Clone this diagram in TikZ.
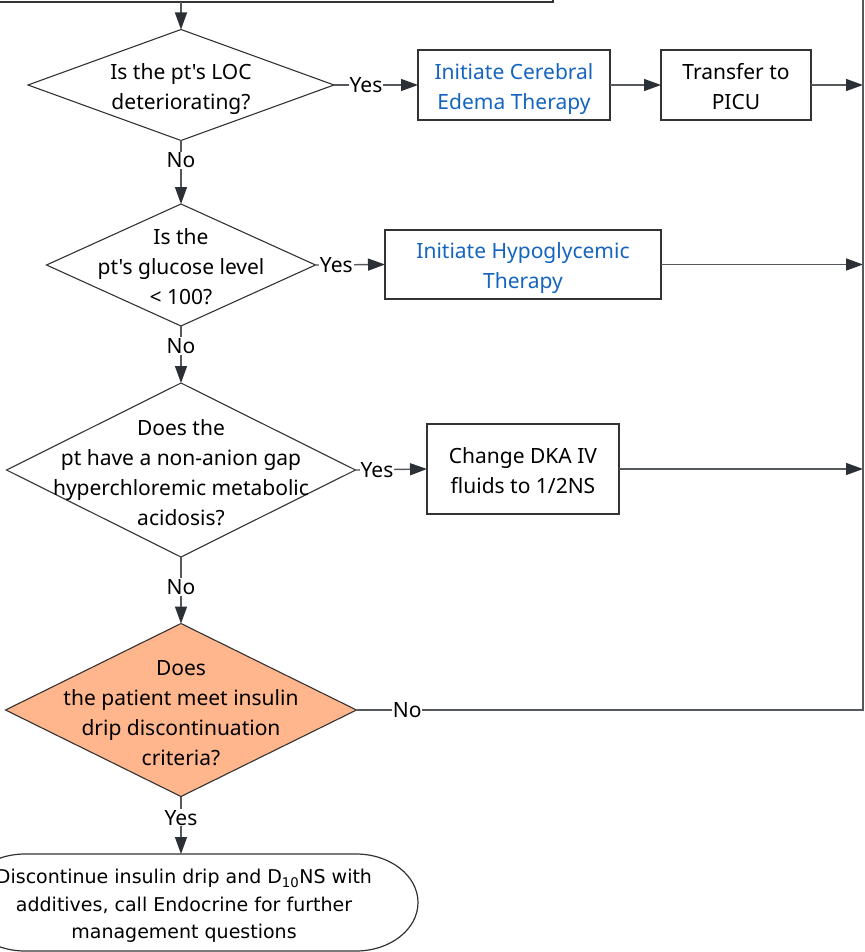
\documentclass[tikz,border=0pt]{standalone}
\usepackage{fontspec}
\setmainfont{Noto Sans}[Ligatures=TeXOff]
\newfontfamily\ellfont{DejaVu Sans}[Ligatures=TeXOff]
\usetikzlibrary{shapes.geometric,arrows.meta}
\definecolor{edgec}{RGB}{51,51,51}
\definecolor{connc}{RGB}{85,88,92}
\definecolor{tipc}{RGB}{43,47,54}
\definecolor{linkblue}{RGB}{21,101,192}
\definecolor{peach}{RGB}{255,182,140}
\newcommand\lsr{\rule[-0.22em]{0pt}{1.362em}}
\begin{document}
\begin{tikzpicture}[x=1pt,y=-1pt,
  box/.style={draw=edgec, line width=1.2pt, rectangle, inner sep=0pt, outer sep=0pt, align=center, font=\fontsize{21}{28.6}\selectfont},
  dia/.style={draw=edgec, line width=1.1pt, diamond, inner sep=0pt, outer sep=0pt},
  txt/.style={align=center, font=\fontsize{21}{28.6}\selectfont, inner sep=0pt},
  conn/.style={draw=connc, line width=1.4pt},
  arr/.style={conn, -{Triangle[length=17pt,width=12pt,color=tipc]}},
  lab/.style={fill=white, inner sep=1pt, font=\fontsize{21}{24}\selectfont},
]
\clip (0,0) rectangle (864,952);
\fill[white] (0,0) rectangle (864,952);
% nodes
\node[box, minimum width=600, minimum height=70] (top) at (253,-33) {};
\node[dia, minimum width=306, minimum height=111] (d1) at (181,85) {};
\node[txt] (t1) at (d1) {\lsr Is the pt's LOC\\\lsr deteriorating?};
\node[box, text=linkblue, minimum width=192, minimum height=70] (b1) at (514,85) {\lsr Initiate Cerebral\\\lsr Edema Therapy};
\node[box, minimum width=150, minimum height=70] (b2) at (736,85) {\lsr Transfer to\\\lsr PICU};
\node[dia, minimum width=269, minimum height=122] (d2) at (181,265) {};
\node[txt] (t2) at (d2) {\lsr Is the\\\lsr pt's glucose level\\\lsr < 100?};
\node[box, text=linkblue, minimum width=276, minimum height=69] (b3) at (523,264.5) {\lsr Initiate Hypoglycemic\\\lsr Therapy};
\node[dia, minimum width=349, minimum height=174] (d3) at (181,470) {};
\node[txt] (t3) at (181,471) {\lsr Does the\\\lsr pt have a non-anion gap\\\lsr hyperchloremic metabolic\\\lsr acidosis?};
\node[box, minimum width=192, minimum height=90] (b4) at (523,469) {\lsr Change DKA IV\\\lsr fluids to 1/2NS};
\node[dia, fill=peach, minimum width=351, minimum height=173] (d4) at (181,710) {};
\node[txt] (t4) at (181,711) {\lsr Does\\\lsr the patient meet insulin\\\lsr drip discontinuation\\\lsr criteria?};
% terminator (stadium with elliptical ends)
\node[rectangle, inner sep=0pt, outer sep=0pt, minimum width=455, minimum height=97] (e) at (190.5,902.5) {};
\draw[draw=edgec, line width=1.2pt]
  ([xshift=62pt]e.north west) -- ([xshift=-62pt]e.north east)
  arc[start angle=90, end angle=-90, x radius=62pt, y radius=48.5pt]
  -- ([xshift=62pt]e.south west)
  arc[start angle=270, end angle=90, x radius=62pt, y radius=48.5pt] -- cycle;
\node[align=center, inner sep=0pt, font=\ellfont\fontsize{19}{27.5}\selectfont] (te) at (184,906) {Discontinue insulin drip and D\textsubscript{10}NS with\\additives, call Endocrine for further\\management questions};
\coordinate (rail) at (863,-20);
% connectors
\draw[arr] (d1.north |- top.south) -- (d1.north);
\draw[arr] (d1.east) -- node[lab,pos=0.38]{Yes} (b1.west);
\draw[arr] (b1.east) -- (b2.west);
\draw[arr] (b2.east) -- (b2.east -| rail);
\draw[arr] (d1.south) -- node[lab,pos=0.31]{No} (d2.north);
\draw[arr] (d2.east) -- node[lab,pos=0.3]{Yes} (b3.west);
\draw[arr] (b3.east) -- (b3.east -| rail);
\draw[arr] (d2.south) -- node[lab,pos=0.35]{No} (d3.north);
\draw[arr] (d3.east) -- node[lab,pos=0.3]{Yes} (b4.west);
\draw[arr] (b4.east) -- (b4.east -| rail);
\draw[arr] (d3.south) -- node[lab,pos=0.45]{No} (d4.north);
\draw[conn, line width=2pt] (d4.east) -- node[lab,pos=0.1]{No} (d4.east -| rail) -- (rail);
\draw[arr] (d4.south) -- node[lab,pos=0.37]{Yes} (d4.south |- e.north);
\end{tikzpicture}
\end{document}
